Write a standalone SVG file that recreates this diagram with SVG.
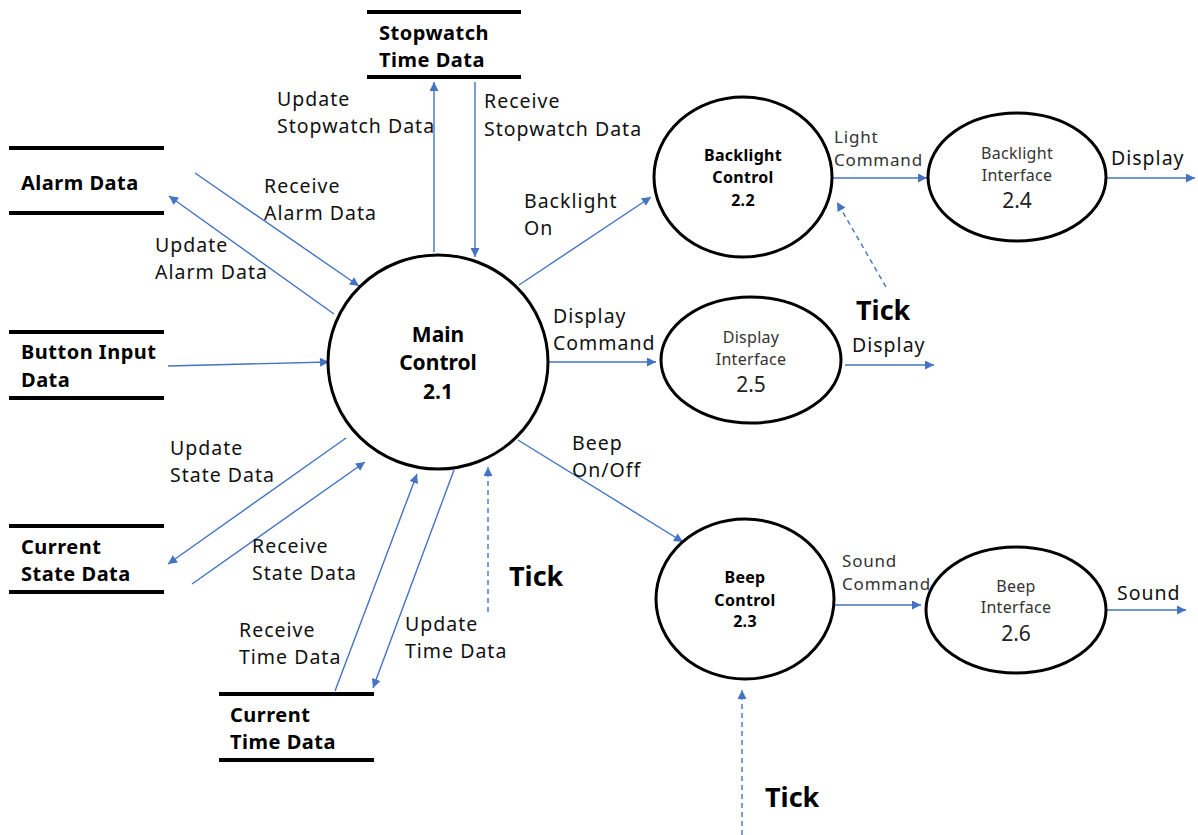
<svg xmlns="http://www.w3.org/2000/svg" width="1198" height="835" viewBox="0 0 1198 835">
<style>
.bg{fill:#fff}
.proc{fill:#fff;stroke:#000;stroke-width:3}
.store{stroke:#000;stroke-width:4}
.flow{fill:none;stroke:#4472C4;stroke-width:1.4}
.dash{stroke-dasharray:5 4}
text{font-family:"Noto Sans","Liberation Sans",sans-serif}
.lbl{font-size:19.5px;fill:#111;letter-spacing:1px}
.sm{font-size:17px;fill:#333;letter-spacing:0.8px}
.b{font-weight:bold;font-size:20px;fill:#000;letter-spacing:0.5px}
.pb{font-weight:bold;font-size:16px;fill:#000;text-anchor:middle;letter-spacing:0.3px}
.mb{font-weight:bold;font-size:21px;fill:#000;text-anchor:middle}
.pi{font-size:16px;fill:#333;text-anchor:middle;letter-spacing:0.3px}
.pn{font-size:21px;fill:#222;text-anchor:middle}
.tick{font-weight:bold;font-size:27px;fill:#000}
</style>
<defs>
<marker id="ah" viewBox="0 0 10 10" refX="10" refY="5" markerWidth="10" markerHeight="9" markerUnits="userSpaceOnUse" orient="auto">
<path d="M0,0 L10,5 L0,10 z" fill="#4472C4"/>
</marker>
</defs>
<rect class="bg" width="1198" height="835"/>

<g id="connectors">
<line class="flow" x1="434" y1="252" x2="434" y2="82" marker-end="url(#ah)"/>
<line class="flow" x1="475" y1="82" x2="475" y2="257" marker-end="url(#ah)"/>
<line class="flow" x1="195" y1="173" x2="359" y2="286" marker-end="url(#ah)"/>
<line class="flow" x1="334" y1="314" x2="169" y2="196" marker-end="url(#ah)"/>
<line class="flow" x1="168" y1="366" x2="329" y2="362" marker-end="url(#ah)"/>
<line class="flow" x1="519" y1="285" x2="651" y2="197" marker-end="url(#ah)"/>
<line class="flow" x1="548" y1="362" x2="656" y2="362" marker-end="url(#ah)"/>
<line class="flow" x1="832" y1="178" x2="927" y2="178" marker-end="url(#ah)"/>
<line class="flow" x1="1106" y1="178" x2="1195" y2="178" marker-end="url(#ah)"/>
<line class="flow" x1="845" y1="365" x2="934" y2="365" marker-end="url(#ah)"/>
<line class="flow dash" x1="886" y1="287" x2="837" y2="202" marker-end="url(#ah)"/>
<line class="flow" x1="518" y1="440" x2="683" y2="542" marker-end="url(#ah)"/>
<line class="flow" x1="835" y1="605" x2="921" y2="605" marker-end="url(#ah)"/>
<line class="flow" x1="1106" y1="610" x2="1186" y2="610" marker-end="url(#ah)"/>
<line class="flow dash" x1="742" y1="835" x2="742" y2="690" marker-end="url(#ah)"/>
<line class="flow dash" x1="488" y1="612" x2="488" y2="467" marker-end="url(#ah)"/>
<line class="flow" x1="346" y1="438" x2="168" y2="564" marker-end="url(#ah)"/>
<line class="flow" x1="192" y1="584" x2="365" y2="462" marker-end="url(#ah)"/>
<line class="flow" x1="335" y1="691" x2="417" y2="474" marker-end="url(#ah)"/>
<line class="flow" x1="454" y1="470" x2="373" y2="688" marker-end="url(#ah)"/>
</g>

<g id="flow-labels">
<text class="lbl" x="277" y="106">Update</text>
<text class="lbl" x="277" y="133">Stopwatch Data</text>
<text class="lbl" x="484" y="108">Receive</text>
<text class="lbl" x="484" y="136">Stopwatch Data</text>
<text class="lbl" x="264" y="193">Receive</text>
<text class="lbl" x="264" y="220">Alarm Data</text>
<text class="lbl" x="155" y="252">Update</text>
<text class="lbl" x="155" y="279">Alarm Data</text>
<text class="lbl" x="524" y="208">Backlight</text>
<text class="lbl" x="524" y="235">On</text>
<text class="lbl" x="553" y="323">Display</text>
<text class="lbl" x="553" y="350">Command</text>
<text class="sm" x="834" y="143">Light</text>
<text class="sm" x="834" y="166">Command</text>
<text class="lbl" x="1111" y="165">Display</text>
<text class="lbl" x="852" y="352">Display</text>
<text class="tick" x="856" y="320">Tick</text>
<text class="lbl" x="572" y="450">Beep</text>
<text class="lbl" x="572" y="477">On/Off</text>
<text class="lbl" x="170" y="455">Update</text>
<text class="lbl" x="170" y="482">State Data</text>
<text class="lbl" x="252" y="553">Receive</text>
<text class="lbl" x="252" y="580">State Data</text>
<text class="lbl" x="239" y="637">Receive</text>
<text class="lbl" x="239" y="664">Time Data</text>
<text class="lbl" x="405" y="631">Update</text>
<text class="lbl" x="405" y="658">Time Data</text>
<text class="tick" x="509" y="586">Tick</text>
<text class="sm" x="842" y="567">Sound</text>
<text class="sm" x="842" y="590">Command</text>
<text class="lbl" x="1117" y="600">Sound</text>
<text class="tick" x="765" y="807">Tick</text>
</g>

<g id="main-control">
<ellipse class="proc" cx="438" cy="362" rx="110" ry="107"/>
<text class="mb" x="438" y="342">Main</text>
<text class="mb" x="438" y="370">Control</text>
<text class="mb" x="438" y="399">2.1</text>
</g>

<g id="backlight-control">
<ellipse class="proc" cx="743" cy="177" rx="89" ry="80"/>
<text class="pb" x="743" y="161">Backlight</text>
<text class="pb" x="743" y="183">Control</text>
<text class="pb" x="743" y="206">2.2</text>
</g>

<g id="backlight-interface">
<ellipse class="proc" cx="1017" cy="177" rx="89" ry="64"/>
<text class="pi" x="1017" y="159">Backlight</text>
<text class="pi" x="1017" y="181">Interface</text>
<text class="pn" x="1017" y="208">2.4</text>
</g>

<g id="display-interface">
<ellipse class="proc" cx="751" cy="360" rx="90" ry="63"/>
<text class="pi" x="751" y="343">Display</text>
<text class="pi" x="751" y="365">Interface</text>
<text class="pn" x="751" y="392">2.5</text>
</g>

<g id="beep-control">
<ellipse class="proc" cx="745" cy="599" rx="89" ry="80"/>
<text class="pb" x="745" y="583">Beep</text>
<text class="pb" x="745" y="606">Control</text>
<text class="pb" x="745" y="627">2.3</text>
</g>

<g id="beep-interface">
<ellipse class="proc" cx="1016" cy="610" rx="90" ry="63"/>
<text class="pi" x="1016" y="592">Beep</text>
<text class="pi" x="1016" y="613">Interface</text>
<text class="pn" x="1016" y="641">2.6</text>
</g>

<g id="stopwatch-time-data">
<line class="store" x1="367" y1="12" x2="521" y2="12"/>
<line class="store" x1="367" y1="77" x2="521" y2="77"/>
<text class="b" x="379" y="40">Stopwatch</text>
<text class="b" x="379" y="67">Time Data</text>
</g>

<g id="alarm-data">
<line class="store" x1="9" y1="148" x2="164" y2="148"/>
<line class="store" x1="9" y1="213" x2="164" y2="213"/>
<text class="b" x="21" y="190">Alarm Data</text>
</g>

<g id="button-input-data">
<line class="store" x1="9" y1="332" x2="164" y2="332"/>
<line class="store" x1="9" y1="398" x2="164" y2="398"/>
<text class="b" x="21" y="359">Button Input</text>
<text class="b" x="21" y="387">Data</text>
</g>

<g id="current-state-data">
<line class="store" x1="9" y1="526" x2="164" y2="526"/>
<line class="store" x1="9" y1="592" x2="164" y2="592"/>
<text class="b" x="21" y="554">Current</text>
<text class="b" x="21" y="581">State Data</text>
</g>

<g id="current-time-data">
<line class="store" x1="219" y1="694" x2="374" y2="694"/>
<line class="store" x1="219" y1="760" x2="374" y2="760"/>
<text class="b" x="230" y="722">Current</text>
<text class="b" x="230" y="749">Time Data</text>
</g>
</svg>
